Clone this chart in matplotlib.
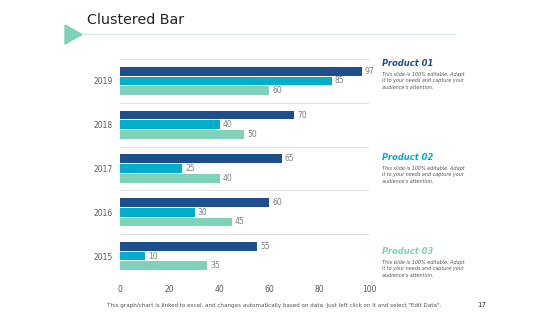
import matplotlib.pyplot as plt
from matplotlib.patches import Polygon
from matplotlib.lines import Line2D

years = ["2015", "2016", "2017", "2018", "2019"]
product_01 = [55, 60, 65, 70, 97]
product_02 = [10, 30, 25, 40, 85]
product_03 = [35, 45, 40, 50, 60]
x_ticks = [0, 20, 40, 60, 80, 100]

DARK = "#1F4E8C"
TEAL = "#00AECB"
MINT = "#7FD1B9"
GRAY = "#595959"
DESC = "This slide is 100% editable. Adapt\nit to your needs and capture your\naudience's attention."


def main() -> None:
    fig = plt.figure(figsize=(5.6, 3.15), dpi=100)
    ax = fig.add_axes([0.2143, 0.1175, 0.4446, 0.6952])

    pos = list(range(len(years)))
    h = 0.2
    for vals, off, col in [(product_01, 0.22, DARK), (product_02, 0.0, TEAL), (product_03, -0.22, MINT)]:
        ys = [p + off for p in pos]
        ax.barh(ys, vals, height=h, color=col)
        for y, v in zip(ys, vals):
            ax.text(v + 1.2, y, str(v), va="center", ha="left", fontsize=5.5, color="#7F7F7F")

    ax.set_xlim(0, 100)
    ax.set_ylim(-0.5, 4.5)
    ax.set_yticks(pos)
    ax.set_yticklabels(years)
    ax.set_xticks(x_ticks)
    ax.tick_params(length=0, labelsize=5.5, labelcolor=GRAY, pad=5)
    for s in ax.spines.values():
        s.set_visible(False)
    for b in [p + 0.5 for p in range(-1, len(years))]:
        ax.axhline(b, color="#E3E3E3", lw=0.8, zorder=0)

    # header
    fig.text(87 / 560, 1 - 20 / 315, "Clustered Bar", fontsize=10.3, color="#222222", va="center", ha="left")
    fig.add_artist(Polygon([[65 / 560, 1 - 25 / 315], [65 / 560, 1 - 44 / 315], [82 / 560, 1 - 34.5 / 315]],
                           closed=True, color=MINT, transform=fig.transFigure))
    fig.add_artist(Line2D([82 / 560, 455 / 560], [1 - 34 / 315] * 2, color="#CFE3E6", lw=0.8,
                          transform=fig.transFigure))

    # product notes
    for name, col, y in [("Product 01", DARK, 64), ("Product 02", TEAL, 158), ("Product 03", MINT, 252)]:
        fig.text(382 / 560, 1 - y / 315, name, fontsize=6, fontweight="bold", fontstyle="italic",
                 color=col, va="center", ha="left")
        fig.text(382 / 560, 1 - (y + 8) / 315, DESC, fontsize=3.5, fontstyle="italic", color="#555555",
                 va="top", ha="left", linespacing=1.35)

    # footer
    fig.text(107 / 560, 1 - 306 / 315,
             "This graph/chart is linked to excel, and changes automatically based on data. Just left click on it and select \"Edit Data\".",
             fontsize=4.1, color="#555555", va="center", ha="left")
    fig.text(477 / 560, 1 - 305 / 315, "17", fontsize=5, color="#333333", va="center", ha="left")

    fig.savefig("out.png", dpi=100)
    plt.close(fig)


if __name__ == "__main__":
    main()
